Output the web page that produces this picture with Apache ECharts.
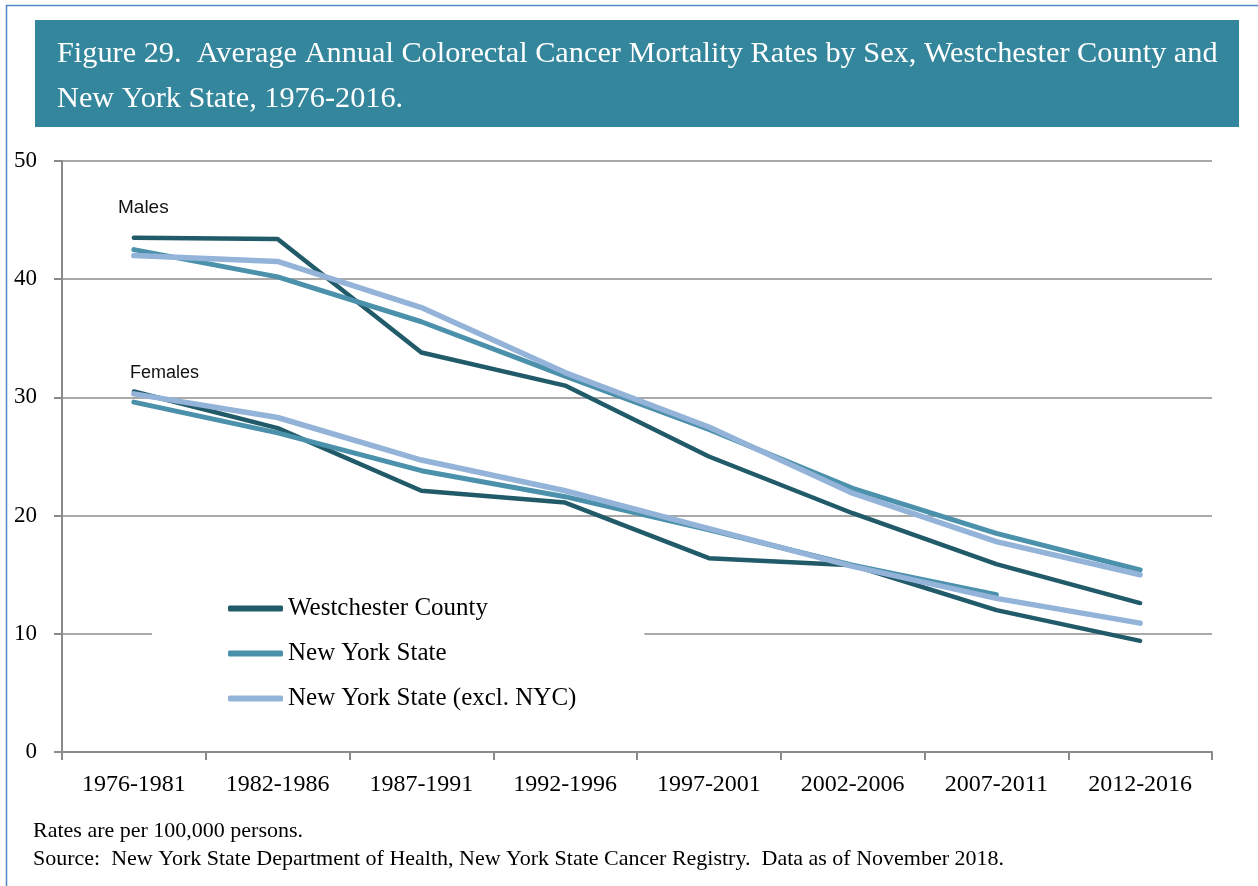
<!DOCTYPE html>
<html>
<head>
<meta charset="utf-8">
<script src="https://cdn.jsdelivr.net/npm/echarts@6/dist/echarts.min.js"></script>
<style>
html,body{margin:0;padding:0;background:#fff;}
#chart{width:1258px;height:886px;}
</style>
</head>
<body>
<div id="chart"></div>
<script>
const categories = ['1976-1981','1982-1986','1987-1991','1992-1996','1997-2001','2002-2006','2007-2011','2012-2016'];
const yTicks = [0, 10, 20, 30, 40, 50];
const maleWestchester = [43.5, 43.4, 33.8, 31.0, 25.0, 20.2, 15.9, 12.6];
const maleNYS = [42.5, 40.2, 36.4, 31.8, 27.3, 22.3, 18.5, 15.4];
const maleNYSexclNYC = [42.0, 41.5, 37.6, 32.1, 27.5, 21.9, 17.8, 15.0];
const femaleWestchester = [30.5, 27.4, 22.1, 21.1, 16.4, 15.8, 12.0, 9.4];
const femaleNYS = [29.6, 27.0, 23.8, 21.6, 18.8, 15.8, 13.3, null];
const femaleNYSexclNYC = [30.3, 28.3, 24.7, 22.1, 18.9, 15.7, 13.0, 10.9];
const seriesNames = ['Westchester County', 'New York State', 'New York State (excl. NYC)'];
const titleLines = ['Figure 29.  Average Annual Colorectal Cancer Mortality Rates by Sex, Westchester County and', 'New York State, 1976-2016.'];
const notes = ['Rates are per 100,000 persons.', 'Source:  New York State Department of Health, New York State Cancer Registry.  Data as of November 2018.'];

const colors = ['#215a69', '#4b91ab', '#93b3d8'];
const widths = [4.5, 5, 5.5];
const serif = '"Liberation Serif", "Times New Roman", serif';

function mk(name, data, idx) {
  return {
    name: name, type: 'line', data: data, symbol: 'none', smooth: false,
    connectNulls: false, animation: false,
    lineStyle: { color: colors[idx], width: widths[idx], cap: 'round', join: 'round' },
    itemStyle: { color: colors[idx] },
    emphasis: { disabled: true },
    z: 2 + idx
  };
}

const chart = echarts.init(document.getElementById('chart'), null, { renderer: 'canvas' });
chart.setOption({
  backgroundColor: '#ffffff',
  animation: false,
  grid: { left: 62, right: 46, top: 161, bottom: 134, containLabel: false },
  xAxis: {
    type: 'category', data: categories, boundaryGap: true,
    axisLine: { show: true, lineStyle: { color: '#8a8a8a', width: 2 } },
    axisTick: { show: true, length: 8, alignWithLabel: false, lineStyle: { color: '#8a8a8a', width: 2 } },
    axisLabel: { color: '#000', fontFamily: serif, fontSize: 24, margin: 21 },
    splitLine: { show: false }
  },
  yAxis: {
    type: 'value', min: yTicks[0], max: yTicks[yTicks.length - 1], interval: 10,
    axisLine: { show: true, lineStyle: { color: '#8a8a8a', width: 2 } },
    axisTick: { show: true, length: 8, lineStyle: { color: '#8a8a8a', width: 2 } },
    axisLabel: { color: '#000', fontFamily: serif, fontSize: 23, margin: 25 },
    splitLine: { show: true, lineStyle: { color: '#8c8c8c', width: 1.5 } }
  },
  legend: {
    data: seriesNames, orient: 'vertical', left: 152, top: 580,
    padding: [16, 68, 16, 76], backgroundColor: '#ffffff',
    itemWidth: 55, itemHeight: 6, itemGap: 20, icon: 'roundRect',
    selectedMode: false,
    textStyle: { color: '#000', fontFamily: serif, fontSize: 25, lineHeight: 25 }
  },
  graphic: [
    { type: 'rect', left: 4, top: 3, shape: { width: 1300, height: 900 }, style: { fill: 'none', stroke: '#4f86c6', lineWidth: 1.5 }, silent: true },
    { type: 'rect', left: 35, top: 20, shape: { width: 1204, height: 107 }, style: { fill: '#34869d' }, silent: true },
    { type: 'text', left: 57, top: 39, style: { text: titleLines[0], fill: '#ffffff', font: '30.3px ' + serif }, silent: true },
    { type: 'text', left: 57, top: 84, style: { text: titleLines[1], fill: '#ffffff', font: '30.3px ' + serif }, silent: true },
    { type: 'text', left: 118, top: 198, style: { text: 'Males', fill: '#111', font: '19px "Liberation Sans", Arial, sans-serif' }, silent: true, z: 10 },
    { type: 'text', left: 130, top: 364, style: { text: 'Females', fill: '#111', font: '18px "Liberation Sans", Arial, sans-serif' }, silent: true, z: 10 },
    { type: 'text', left: 33, top: 820, style: { text: notes[0], fill: '#000', font: '22px ' + serif }, silent: true },
    { type: 'text', left: 33, top: 848, style: { text: notes[1], fill: '#000', font: '22px ' + serif }, silent: true }
  ],
  series: [
    mk(seriesNames[0], maleWestchester, 0),
    mk(seriesNames[1], maleNYS, 1),
    mk(seriesNames[2], maleNYSexclNYC, 2),
    mk(seriesNames[0], femaleWestchester, 0),
    mk(seriesNames[1], femaleNYS, 1),
    mk(seriesNames[2], femaleNYSexclNYC, 2)
  ]
});
</script>
</body>
</html>
